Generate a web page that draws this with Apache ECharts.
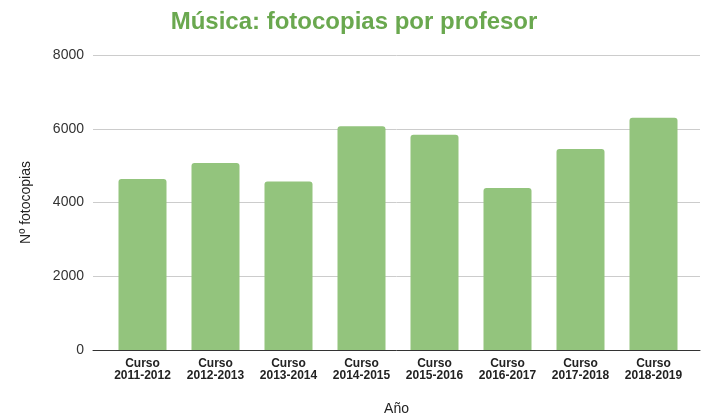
<!DOCTYPE html>
<html>
<head>
<meta charset="utf-8">
<script src="https://cdn.jsdelivr.net/npm/echarts@6/dist/echarts.min.js"></script>
<style>
  html, body { margin: 0; padding: 0; background: #fff; }
  #chart { width: 708px; height: 417px; }
</style>
</head>
<body>
<div id="chart"></div>
<script>
// datos
const cursos = [
  "Curso\n2011-2012", "Curso\n2012-2013", "Curso\n2013-2014", "Curso\n2014-2015",
  "Curso\n2015-2016", "Curso\n2016-2017", "Curso\n2017-2018", "Curso\n2018-2019"
];
const fotocopias = [4640, 5070, 4570, 6070, 5840, 4390, 5450, 6300];
const yMin = 0, yMax = 8000, yStep = 2000;

const chart = echarts.init(document.getElementById("chart"));
const font = "Liberation Sans, Arial, sans-serif";

chart.setOption({
  animation: false,
  title: {
    text: "Música: fotocopias por profesor",
    left: "center",
    top: 5,
    textStyle: { color: "#6aa84f", fontSize: 24, fontWeight: "bold", fontFamily: font }
  },
  grid: [
    // rejilla de fondo (líneas y eje Y)
    { left: 93, right: 8, top: 55, bottom: 67, outerBoundsMode: "none" },
    // barras
    { left: 106, right: 18, top: 55, bottom: 67, outerBoundsMode: "none" }
  ],
  xAxis: [
    {
      gridIndex: 0, type: "value", min: 0, max: 1,
      axisLine: { show: true, lineStyle: { color: "#333", width: 1 } },
      axisTick: { show: false }, axisLabel: { show: false }, splitLine: { show: false },
      name: "Año", nameLocation: "middle", nameGap: 52,
      nameTextStyle: { color: "#222", fontSize: 14, fontFamily: font }
    },
    {
      gridIndex: 1, type: "category", data: cursos,
      axisLine: { show: false }, axisTick: { show: false },
      axisLabel: {
        color: "#222", fontSize: 12, fontWeight: "bold", fontFamily: font,
        lineHeight: 12, margin: 8, interval: 0
      }
    }
  ],
  yAxis: [
    {
      gridIndex: 0, type: "value", min: yMin, max: yMax, interval: yStep,
      axisLine: { show: false }, axisTick: { show: false },
      axisLabel: { color: "#333", fontSize: 14, fontFamily: font, margin: 9, formatter: v => String(v) },
      splitLine: { lineStyle: { color: "#cccccc" } },
      name: "Nº fotocopias", nameLocation: "middle", nameGap: 60, nameRotate: 90,
      nameTextStyle: { color: "#222", fontSize: 14, fontFamily: font }
    },
    {
      gridIndex: 1, type: "value", min: yMin, max: yMax, interval: yStep,
      show: false, splitLine: { show: false }
    }
  ],
  series: [
    {
      type: "bar",
      xAxisIndex: 1, yAxisIndex: 1,
      data: fotocopias,
      barWidth: 48,
      itemStyle: { color: "#93c47d", borderRadius: [3, 3, 0, 0] }
    }
  ]
});
</script>
</body>
</html>
